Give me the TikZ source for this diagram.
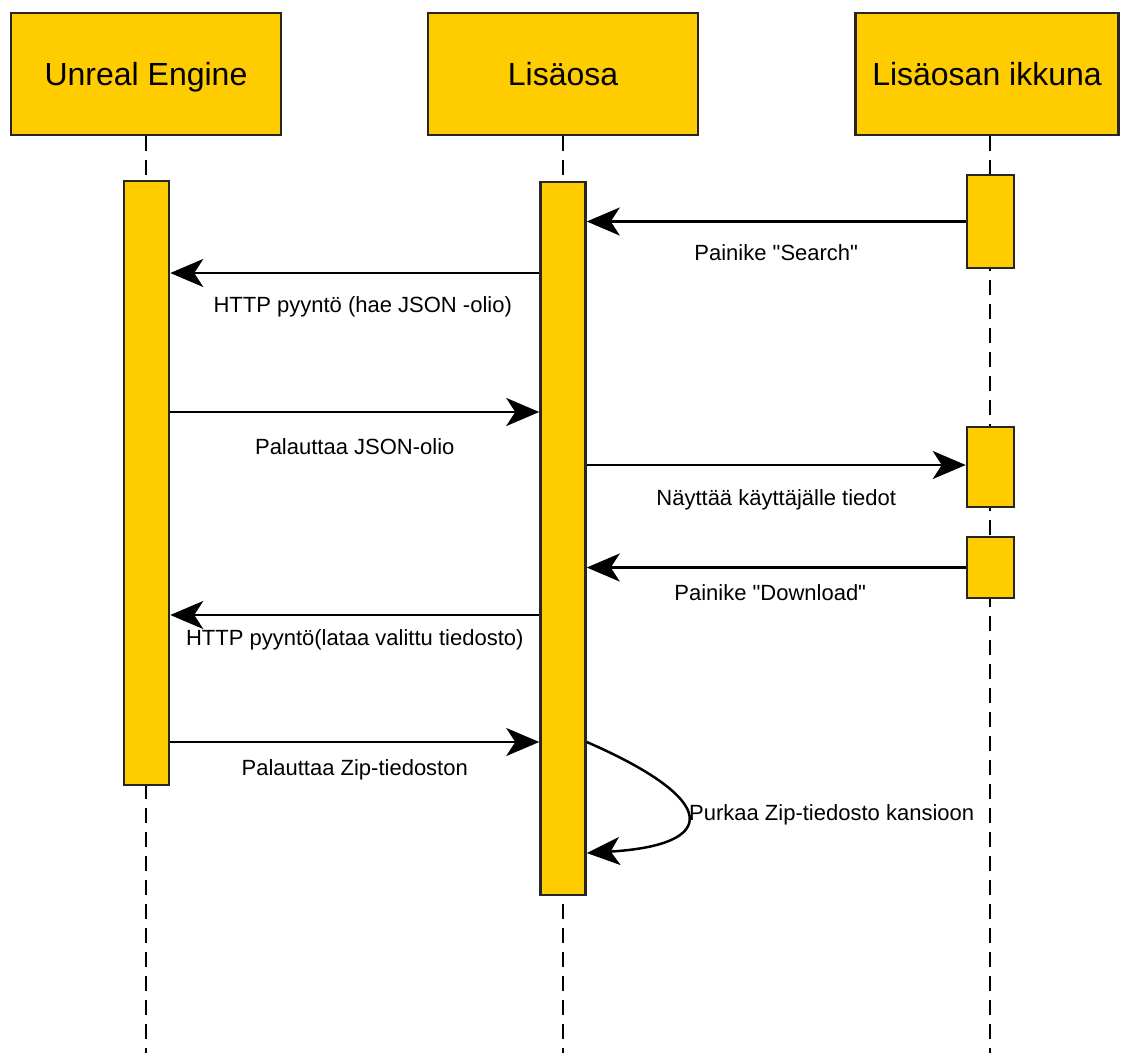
\documentclass[tikz,border=0pt]{standalone}
\usepackage{fontspec}
\setmainfont{Liberation Sans}
\usepackage{tikz}
\usetikzlibrary{positioning,calc,arrows.meta}
\definecolor{boxyellow}{HTML}{FFCC00}

\begin{document}
\begin{tikzpicture}[x=1pt, y=-1pt,
        head/.style={rectangle, draw=black!85, line width=2.5pt, fill=boxyellow, minimum width=270pt, minimum height=122pt, inner sep=0pt, text height=23pt, text depth=0pt, font=\fontsize{32}{38}\selectfont},
        bar/.style={rectangle, draw=black!85, line width=2.5pt, fill=boxyellow, minimum width=45pt, inner sep=0pt},
        life/.style={line width=2.5pt, dash pattern=on 15pt off 9pt},
        msg/.style={line width=2.5pt, -{Stealth[length=33pt, width=28pt, inset=9pt]}},
        lbl/.style={font=\fontsize{22}{26}\selectfont, inner sep=0pt}
    ]
    \useasboundingbox (0,0) rectangle (1128,1053);

    % Define header nodes
    \node[head] (ue) at (146,74) {Unreal Engine};
    \node[head] (lisa) at (563,74) {Lisäosa};
    \node[head, minimum width=263pt] (ikk) at (987,74) {Lisäosan ikkuna};

    % Lifelines
    \coordinate (bottom) at (0,1053);
    \draw[life] (ue.south) -- (ue.south |- bottom);
    \draw[life] (lisa.south) -- (lisa.south |- bottom);
    \draw[life] (ikk.south -| 990,0) -- (990,1053);

    % Activation bars
    \node[bar, minimum height=604pt] (uebar) at (146.5,483) {};
    \node[bar, minimum height=713pt] (lisabar) at (563,538.5) {};
    \node[bar, minimum width=47pt, minimum height=93pt] (ikk1) at (990.5,221.5) {};
    \node[bar, minimum width=47pt, minimum height=80pt] (ikk2) at (990.5,467) {};
    \node[bar, minimum width=47pt, minimum height=61pt] (ikk3) at (990.5,567.5) {};

    % Message levels
    \coordinate (m2) at (0,273);
    \coordinate (m3) at (0,412);
    \coordinate (m4) at (0,465);
    \coordinate (m6) at (0,615);
    \coordinate (m7) at (0,742);
    \coordinate (m8) at (0,853);

    % Messages
    \draw[msg] (ikk1.west) -- (lisabar.east |- ikk1.west)
        node[lbl, midway, yshift=-31pt] {Painike \textquotedbl Search\textquotedbl};
    \draw[msg] (lisabar.west |- m2) -- (uebar.east |- m2)
        node[lbl, midway, yshift=-34pt, xshift=8pt] {HTTP pyyntö (hae JSON -olio)};
    \draw[msg] (uebar.east |- m3) -- (lisabar.west |- m3)
        node[lbl, midway, yshift=-35pt] {Palauttaa JSON-olio};
    \draw[msg] (lisabar.east |- m4) -- (ikk2.west |- m4)
        node[lbl, midway, yshift=-35pt] {Näyttää käyttäjälle tiedot};
    \draw[msg] (ikk3.west) -- (lisabar.east |- ikk3.west)
        node[lbl, midway, yshift=-25pt, xshift=-6pt] {Painike \textquotedbl Download\textquotedbl};
    \draw[msg] (lisabar.west |- m6) -- (uebar.east |- m6)
        node[lbl, midway, yshift=-25pt] {HTTP pyyntö(lataa valittu tiedosto)};
    \draw[msg] (uebar.east |- m7) -- (lisabar.west |- m7)
        node[lbl, midway, yshift=-28pt] {Palauttaa Zip-tiedoston};

    % Self call
    \draw[msg] (lisabar.east |- m7) .. controls (720,800) and (720,845) .. (lisabar.east |- m8);
    \node[lbl, anchor=west] (unzip) at (689,815) {Purkaa Zip-tiedosto kansioon};

\end{tikzpicture}
\end{document}
